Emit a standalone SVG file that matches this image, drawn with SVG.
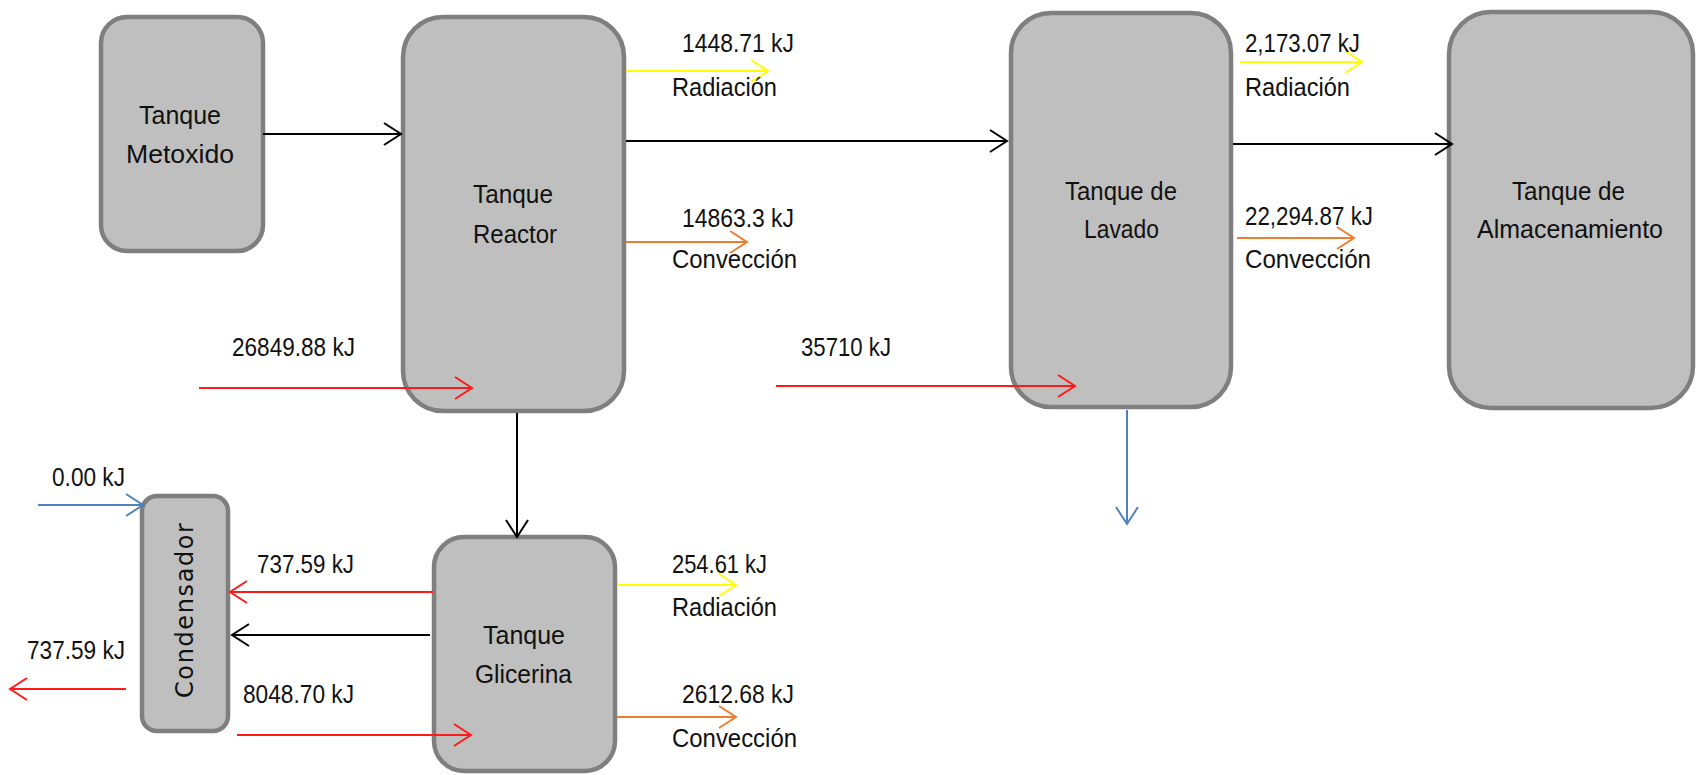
<svg xmlns="http://www.w3.org/2000/svg" width="1696" height="775" viewBox="0 0 1696 775">
  <style>
    .box { fill: #bfbfbf; stroke: #7f7f7f; stroke-width: 4.5; }
    .lbl { font-family: "Liberation Sans", Arial, sans-serif; font-size: 26px; fill: #111; }
    .vlbl { font-family: "DejaVu Sans", "Liberation Sans", sans-serif; font-size: 24px; fill: #111; }
    .k { fill: none; stroke: #000; stroke-width: 2; }
    .r { fill: none; stroke: #ff1a1a; stroke-width: 2; }
    .y { fill: none; stroke: #ffff00; stroke-width: 2; }
    .o { fill: none; stroke: #ed7d31; stroke-width: 2; }
    .b { fill: none; stroke: #4f81bd; stroke-width: 2; }
  </style>
  <defs>
    <marker id="ah-k" markerUnits="userSpaceOnUse" markerWidth="20" markerHeight="24" refX="0" refY="0" orient="auto" overflow="visible">
      <path d="M-17,-11 L0,0 L-17,11" fill="none" stroke="#000" stroke-width="2"/>
    </marker>
    <marker id="ah-r" markerUnits="userSpaceOnUse" markerWidth="20" markerHeight="24" refX="0" refY="0" orient="auto" overflow="visible">
      <path d="M-17,-11 L0,0 L-17,11" fill="none" stroke="#ff1a1a" stroke-width="2"/>
    </marker>
    <marker id="ah-y" markerUnits="userSpaceOnUse" markerWidth="20" markerHeight="24" refX="0" refY="0" orient="auto" overflow="visible">
      <path d="M-17,-11 L0,0 L-17,11" fill="none" stroke="#ffff00" stroke-width="2"/>
    </marker>
    <marker id="ah-o" markerUnits="userSpaceOnUse" markerWidth="20" markerHeight="24" refX="0" refY="0" orient="auto" overflow="visible">
      <path d="M-17,-11 L0,0 L-17,11" fill="none" stroke="#ed7d31" stroke-width="2"/>
    </marker>
    <marker id="ah-b" markerUnits="userSpaceOnUse" markerWidth="20" markerHeight="24" refX="0" refY="0" orient="auto" overflow="visible">
      <path d="M-17,-11 L0,0 L-17,11" fill="none" stroke="#4f81bd" stroke-width="2"/>
    </marker>
  </defs>

  <rect width="1696" height="775" fill="#ffffff"/>

  <!-- tanks -->
  <g id="tanque-metoxido">
    <rect class="box" x="101" y="17" width="162" height="234" rx="26"/>
    <text class="lbl" x="139" y="124" textLength="82" lengthAdjust="spacingAndGlyphs">Tanque</text>
    <text class="lbl" x="126" y="163" textLength="108" lengthAdjust="spacingAndGlyphs">Metoxido</text>
  </g>

  <g id="tanque-reactor">
    <rect class="box" x="403" y="17" width="221" height="394" rx="40"/>
    <text class="lbl" x="473" y="203" textLength="80" lengthAdjust="spacingAndGlyphs">Tanque</text>
    <text class="lbl" x="473" y="243" textLength="84" lengthAdjust="spacingAndGlyphs">Reactor</text>
  </g>

  <g id="tanque-lavado">
    <rect class="box" x="1011" y="13" width="220" height="394" rx="40"/>
    <text class="lbl" x="1065" y="200" textLength="112" lengthAdjust="spacingAndGlyphs">Tanque de</text>
    <text class="lbl" x="1084" y="238" textLength="75" lengthAdjust="spacingAndGlyphs">Lavado</text>
  </g>

  <g id="tanque-almacenamiento">
    <rect class="box" x="1449" y="12" width="244" height="396" rx="42"/>
    <text class="lbl" x="1512" y="200" textLength="113" lengthAdjust="spacingAndGlyphs">Tanque de</text>
    <text class="lbl" x="1477" y="238" textLength="186" lengthAdjust="spacingAndGlyphs">Almacenamiento</text>
  </g>

  <g id="condensador">
    <rect class="box" x="142" y="496" width="86" height="235" rx="15"/>
    <text class="vlbl" transform="translate(193,698) rotate(-90)" x="0" y="0" textLength="175" lengthAdjust="spacing">Condensador</text>
  </g>

  <g id="tanque-glicerina">
    <rect class="box" x="434" y="537" width="181" height="234" rx="30"/>
    <text class="lbl" x="483" y="644" textLength="82" lengthAdjust="spacingAndGlyphs">Tanque</text>
    <text class="lbl" x="475" y="683" textLength="97" lengthAdjust="spacingAndGlyphs">Glicerina</text>
  </g>

  <!-- flows -->
  <g id="connectors">
    <!-- material flow -->
    <path class="k" d="M263,134 H401" marker-end="url(#ah-k)"/>
    <path class="k" d="M626,141 H1007" marker-end="url(#ah-k)"/>
    <path class="k" d="M1233,144 H1452" marker-end="url(#ah-k)"/>
    <path class="k" d="M517,413 V537" marker-end="url(#ah-k)"/>
    <path class="k" d="M430,635 H232" marker-end="url(#ah-k)"/>
    <!-- heat input / output -->
    <path class="r" d="M199,388 H472" marker-end="url(#ah-r)"/>
    <path class="r" d="M776,386 H1075" marker-end="url(#ah-r)"/>
    <path class="r" d="M433,592 H230" marker-end="url(#ah-r)"/>
    <path class="r" d="M126,689 H10" marker-end="url(#ah-r)"/>
    <path class="r" d="M237,735 H471" marker-end="url(#ah-r)"/>
    <!-- radiation losses -->
    <path class="y" d="M626,71 H768" marker-end="url(#ah-y)"/>
    <path class="y" d="M1240,62 H1362" marker-end="url(#ah-y)"/>
    <path class="y" d="M617,585 H736" marker-end="url(#ah-y)"/>
    <!-- convection losses -->
    <path class="o" d="M626,242 H747" marker-end="url(#ah-o)"/>
    <path class="o" d="M1237,238 H1354" marker-end="url(#ah-o)"/>
    <path class="o" d="M617,717 H736" marker-end="url(#ah-o)"/>
    <!-- cooling water -->
    <path class="b" d="M38,505 H143" marker-end="url(#ah-b)"/>
    <path class="b" d="M1127,410 V524" marker-end="url(#ah-b)"/>
  </g>

  <!-- flow labels -->
  <g id="labels">
    <text class="lbl" x="682" y="52" textLength="112" lengthAdjust="spacingAndGlyphs">1448.71  kJ</text>
    <text class="lbl" x="672" y="96" textLength="105" lengthAdjust="spacingAndGlyphs">Radiación</text>
    <text class="lbl" x="682" y="227" textLength="112" lengthAdjust="spacingAndGlyphs">14863.3  kJ</text>
    <text class="lbl" x="672" y="268" textLength="125" lengthAdjust="spacingAndGlyphs">Convección</text>
    <text class="lbl" x="232" y="356" textLength="123" lengthAdjust="spacingAndGlyphs">26849.88  kJ</text>
    <text class="lbl" x="801" y="356" textLength="90" lengthAdjust="spacingAndGlyphs">35710  kJ</text>
    <text class="lbl" x="1245" y="52" textLength="115" lengthAdjust="spacingAndGlyphs">2,173.07 kJ</text>
    <text class="lbl" x="1245" y="96" textLength="105" lengthAdjust="spacingAndGlyphs">Radiación</text>
    <text class="lbl" x="1245" y="225" textLength="128" lengthAdjust="spacingAndGlyphs">22,294.87 kJ</text>
    <text class="lbl" x="1245" y="268" textLength="126" lengthAdjust="spacingAndGlyphs">Convección</text>
    <text class="lbl" x="52" y="486" textLength="73" lengthAdjust="spacingAndGlyphs">0.00  kJ</text>
    <text class="lbl" x="257" y="573" textLength="97" lengthAdjust="spacingAndGlyphs">737.59  kJ</text>
    <text class="lbl" x="27" y="659" textLength="98" lengthAdjust="spacingAndGlyphs">737.59  kJ</text>
    <text class="lbl" x="243" y="703" textLength="111" lengthAdjust="spacingAndGlyphs">8048.70  kJ</text>
    <text class="lbl" x="672" y="573" textLength="95" lengthAdjust="spacingAndGlyphs">254.61 kJ</text>
    <text class="lbl" x="672" y="616" textLength="105" lengthAdjust="spacingAndGlyphs">Radiación</text>
    <text class="lbl" x="682" y="703" textLength="112" lengthAdjust="spacingAndGlyphs">2612.68  kJ</text>
    <text class="lbl" x="672" y="747" textLength="125" lengthAdjust="spacingAndGlyphs">Convección</text>
  </g>
</svg>
